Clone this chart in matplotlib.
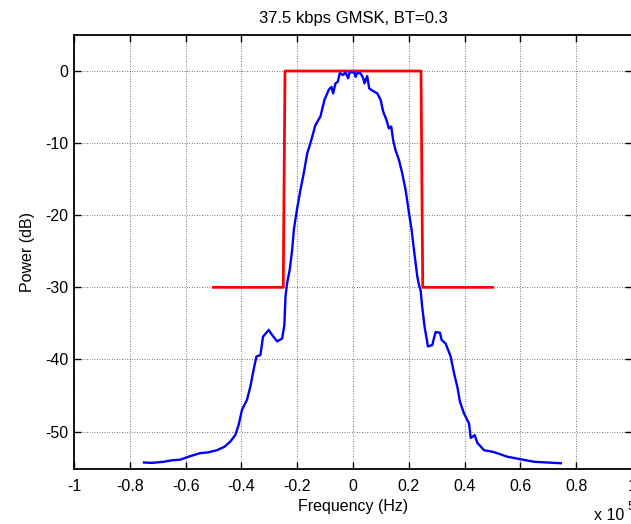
import matplotlib
matplotlib.use("Agg")
import matplotlib.pyplot as plt

plt.rcParams['font.family'] = ['Liberation Sans', 'DejaVu Sans']
plt.rcParams['axes.unicode_minus'] = False

# frequency in units of 1e5 Hz, power in dB
freq = [-0.749, -0.72, -0.679, -0.65, -0.619, -0.59, -0.548, -0.52, -0.488, -0.46,
        -0.44, -0.422, -0.41, -0.398, -0.38, -0.368, -0.354, -0.346, -0.332, -0.3225,
        -0.302, -0.294, -0.272, -0.254, -0.246, -0.242, -0.236, -0.227, -0.218, -0.212,
        -0.2, -0.1885, -0.1766, -0.164, -0.1526, -0.1347, -0.1167, -0.1023, -0.087, -0.0772,
        -0.0711, -0.0628, -0.0546, -0.0474, -0.0352, -0.027, -0.0172, -0.0114, -0.0029, 0.0054,
        0.009, 0.015, 0.027, 0.0366, 0.0413, 0.051, 0.058, 0.069, 0.087, 0.099,
        0.108, 0.12, 0.1286, 0.137, 0.144, 0.1526, 0.1645, 0.1766, 0.1885, 0.2,
        0.21, 0.2185, 0.2305, 0.2364, 0.2424, 0.248, 0.2567, 0.2687, 0.2843, 0.29,
        0.2962, 0.3117, 0.3177, 0.332, 0.35, 0.362, 0.374, 0.3835, 0.398, 0.416,
        0.422, 0.436, 0.446, 0.47, 0.5, 0.5236, 0.5536, 0.6014, 0.649, 0.697, 0.745]
power = [-54.3, -54.35, -54.2, -54.0, -53.9, -53.5, -53.0, -52.9, -52.6, -52.1,
         -51.4, -50.5, -49.1, -47.0, -45.6, -43.8, -41.0, -39.6, -39.4, -36.85,
         -35.9, -36.4, -37.5, -37.1, -35.2, -31.3, -29.4, -27.6, -24.8, -22.0,
         -19.0, -16.5, -14.2, -11.4, -10.0, -7.5, -6.3, -4.0, -2.6, -2.2,
         -3.1, -1.7, -1.5, -0.3, -0.55, -0.2, -1.0, -0.1, -0.2, -0.2,
         -0.8, -0.3, -0.3, -1.0, -1.7, -0.7, -2.4, -2.7, -3.1, -4.0,
         -5.6, -6.8, -7.95, -7.7, -9.6, -11.0, -12.3, -14.2, -16.5, -19.5,
         -22.0, -24.8, -28.5, -29.7, -30.4, -32.7, -35.5, -38.2, -38.0, -37.1,
         -36.2, -36.3, -37.3, -37.8, -39.6, -41.9, -43.8, -45.9, -47.5, -48.9,
         -50.9, -50.5, -51.6, -52.6, -52.8, -53.1, -53.5, -53.85, -54.2, -54.3, -54.4]

mask_freq = [-0.5, -0.25, -0.2437, 0.2437, 0.25, 0.5]
mask_power = [-30, -30, 0, 0, -30, -30]

xticks = [-1, -0.8, -0.6, -0.4, -0.2, 0, 0.2, 0.4, 0.6, 0.8, 1]
xticklabels = ['-1', '-0.8', '-0.6', '-0.4', '-0.2', '0', '0.2', '0.4', '0.6', '0.8', '1']
yticks = [-50, -40, -30, -20, -10, 0]

fig = plt.figure(figsize=(6.31, 5.24), dpi=100)
ax = fig.add_axes([74 / 631, 55 / 524, 558 / 631, 434 / 524])

ax.plot(mask_freq, mask_power, color='#ff0000', lw=2.0, zorder=3)
ax.plot(freq, power, color='#0000ff', lw=1.7, zorder=4)

ax.set_xlim(-1, 1)
ax.set_ylim(-55.2, 5)
ax.set_xticks(xticks)
ax.set_xticklabels(xticklabels)
ax.set_yticks(yticks)

ax.grid(True, color='k', linestyle=(0, (1, 2)), lw=0.6, alpha=0.7)
ax.tick_params(direction='in', length=5, width=1, top=True, right=True,
               labelsize=11.5, colors='k')
ax.tick_params(axis='x', pad=7)
ax.tick_params(axis='y', pad=4)
for s in ax.spines.values():
    s.set_linewidth(1.3)
    s.set_color('k')

ax.set_title('37.5 kbps GMSK, BT=0.3', fontsize=12, pad=9)
ax.set_xlabel('Frequency (Hz)', fontsize=11.5, labelpad=4)
ax.set_ylabel('Power (dB)', fontsize=11.5, labelpad=7)

fig.text(594 / 631, 1 - 520 / 524, 'x 10', fontsize=11.5, ha='left', va='baseline')
fig.text(627 / 631, 1 - 510 / 524, '5', fontsize=8.5, ha='left', va='baseline')

fig.savefig('out.png', dpi=100)
